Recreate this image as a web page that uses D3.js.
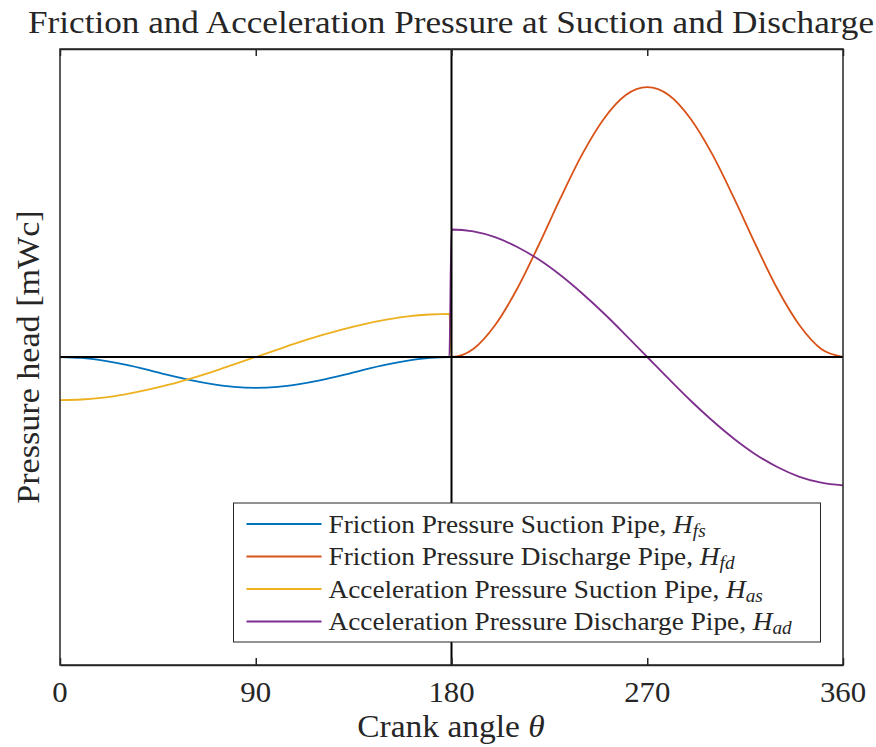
<!DOCTYPE html>
<html>
<head>
<meta charset="utf-8">
<script src="https://cdn.jsdelivr.net/npm/d3@7"></script>
<style>
  body { margin: 0; background: #fff; }
  text { font-family: "Liberation Serif", "Times New Roman", serif; fill: #262626; }
</style>
</head>
<body>
<svg id="chart" width="876" height="747"></svg>
<script>
// crank angle samples (deg); step at 179 -> 180 where suction/discharge switch
var angles = [0, 10, 20, 30, 40, 50, 60, 70, 80, 90, 100, 110, 120, 130, 140, 150, 160, 170, 179,
	180, 190, 200, 210, 220, 230, 240, 250, 260, 270, 280, 290, 300, 310, 320, 330, 340, 350, 360];

// friction pressure, suction pipe
var hfs = [0, -0.003, -0.012, -0.025, -0.041, -0.059, -0.075, -0.088, -0.097, -0.100, -0.097, -0.088,
	-0.075, -0.059, -0.041, -0.025, -0.012, -0.003, 0,
	0, 0, 0, 0, 0, 0, 0, 0, 0, 0, 0, 0, 0, 0, 0, 0, 0, 0, 0];
// friction pressure, discharge pipe
var hfd = [0, 0, 0, 0, 0, 0, 0, 0, 0, 0, 0, 0, 0, 0, 0, 0, 0, 0, 0,
	0, 0.026, 0.103, 0.219, 0.362, 0.514, 0.657, 0.773, 0.850, 0.876, 0.850, 0.773, 0.657, 0.514,
	0.362, 0.219, 0.103, 0.026, 0];
// acceleration pressure, suction pipe
var has = [-0.140, -0.138, -0.132, -0.121, -0.107, -0.090, -0.070, -0.048, -0.024, 0, 0.024, 0.048,
	0.070, 0.090, 0.107, 0.121, 0.132, 0.138, 0.140,
	0, 0, 0, 0, 0, 0, 0, 0, 0, 0, 0, 0, 0, 0, 0, 0, 0, 0, 0];
// acceleration pressure, discharge pipe
var had = [0, 0, 0, 0, 0, 0, 0, 0, 0, 0, 0, 0, 0, 0, 0, 0, 0, 0, 0,
	0.414, 0.408, 0.389, 0.358, 0.317, 0.266, 0.207, 0.142, 0.072, 0, -0.072, -0.142, -0.207, -0.266,
	-0.317, -0.358, -0.389, -0.408, -0.417];

var seriesNames = ["Friction Pressure Suction Pipe, ", "Friction Pressure Discharge Pipe, ",
	"Acceleration Pressure Suction Pipe, ", "Acceleration Pressure Discharge Pipe, "];
var seriesSubs = ["fs", "fd", "as", "ad"];
var seriesColors = ["#0072BD", "#D95319", "#EDB120", "#7E2F8E"];
var xTicks = [0, 90, 180, 270, 360];

var svg = d3.select("#chart");
var margin = {left: 60, right: 33, top: 49, bottom: 82};
var W = 876, H = 747;

var xScale = d3.scaleLinear().domain([0, 360]).range([margin.left, W - margin.right]);
var yScale = d3.scaleLinear().domain([-1, 1]).range([H - margin.bottom, margin.top]);

// draw a horizontally-stretched text at (x, y); stretch widens Times toward Computer Modern
function label(g, x, y, size, anchor, rotate, stretch){
	stretch = stretch || 1.08;
	var t = g.append("text")
		.attr("transform", "translate(" + x + "," + y + ")" + (rotate ? " rotate(" + rotate + ")" : "") + " scale(" + stretch + ",1)")
		.attr("font-size", size)
		.attr("text-anchor", anchor);
	return t;
}

// series lines
var line = d3.line()
	.x(function(d){ return xScale(d[0]); })
	.y(function(d){ return yScale(d[1]); })
	.curve(d3.curveMonotoneX);

var allSeries = [hfs, hfd, has, had];
allSeries.forEach(function(vals, i){
	var pts = angles.map(function(a, j){ return [a, vals[j]]; });
	svg.append("path")
		.attr("d", line(pts))
		.attr("fill", "none")
		.attr("stroke", seriesColors[i])
		.attr("stroke-width", 1.8);
});

// reference lines at zero and 180 deg
svg.append("line")
	.attr("x1", xScale(0)).attr("x2", xScale(360))
	.attr("y1", yScale(0)).attr("y2", yScale(0))
	.attr("stroke", "#000").attr("stroke-width", 2);
svg.append("line")
	.attr("x1", xScale(180)).attr("x2", xScale(180))
	.attr("y1", yScale(1)).attr("y2", yScale(-1))
	.attr("stroke", "#000").attr("stroke-width", 2);

// axes (ticks point inward, box on)
var xAxis = svg.append("g")
	.attr("transform", "translate(0," + yScale(-1) + ")")
	.call(d3.axisBottom(xScale).tickValues(xTicks).tickSizeInner(-7).tickSizeOuter(0));
xAxis.selectAll("text").remove();
xAxis.selectAll("line, path").attr("stroke", "#262626").attr("stroke-width", 1.5);

var xTop = svg.append("g")
	.attr("transform", "translate(0," + yScale(1) + ")")
	.call(d3.axisTop(xScale).tickValues(xTicks).tickSizeInner(-7).tickSizeOuter(0).tickFormat(""));
xTop.selectAll("line, path").attr("stroke", "#262626").attr("stroke-width", 1.5);

svg.append("rect")
	.attr("x", xScale(0)).attr("y", yScale(1))
	.attr("width", xScale(360) - xScale(0)).attr("height", yScale(-1) - yScale(1))
	.attr("fill", "none").attr("stroke", "#262626").attr("stroke-width", 1.5);

xTicks.forEach(function(t){
	label(svg, xScale(t), yScale(-1) + 37, 28.5, "middle").text(t);
});

// legend
var legX = 233.5, legY = 503, legW = 587, legH = 139, rowH = 32.5;
var leg = svg.append("g");
leg.append("rect")
	.attr("x", legX).attr("y", legY).attr("width", legW).attr("height", legH)
	.attr("fill", "#fff").attr("stroke", "#262626").attr("stroke-width", 1);
seriesNames.forEach(function(name, i){
	var cy = legY + 21 + i * rowH;
	leg.append("line")
		.attr("x1", legX + 13).attr("x2", legX + 88)
		.attr("y1", cy).attr("y2", cy)
		.attr("stroke", seriesColors[i]).attr("stroke-width", 1.8);
	var t = label(leg, legX + 95, cy + 8.5, 25.5, "start", 0, 1.07);
	t.append("tspan").text(name);
	t.append("tspan").attr("font-style", "italic").text("H");
	t.append("tspan").attr("font-style", "italic").attr("font-size", 18).attr("dy", 4).text(seriesSubs[i]);
});

// title and axis labels
label(svg, 451, 33, 31, "middle", 0, 1.135).text("Friction and Acceleration Pressure at Suction and Discharge");
var xl = label(svg, 451, 737, 31, "middle");
xl.append("tspan").text("Crank angle ");
xl.append("tspan").attr("font-style", "italic").text("θ");
label(svg, 39, 357, 31, "middle", -90, 1.1).text("Pressure head [mWc]");
</script>
</body>
</html>
